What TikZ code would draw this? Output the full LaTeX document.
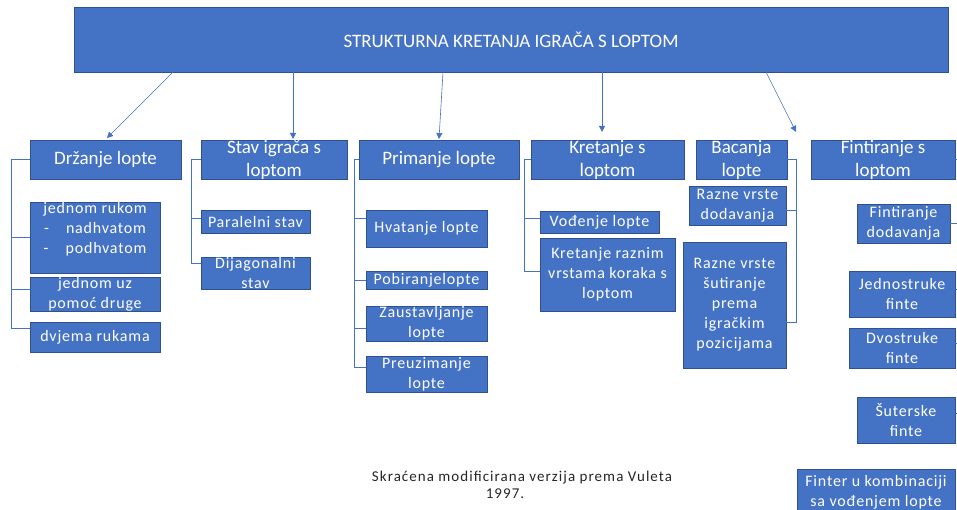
\documentclass[tikz,border=0pt]{standalone}
\usepackage{fontspec}
\setmainfont{Carlito}
\newfontfamily\lsf[LetterSpace=5]{Carlito}
\newfontfamily\capf[LetterSpace=7]{Carlito}
\usetikzlibrary{arrows.meta}
\definecolor{boxblue}{HTML}{4472C4}
\definecolor{boxborder}{HTML}{2F528F}
\definecolor{lineblue}{HTML}{4472C4}
\definecolor{captext}{HTML}{262626}
\newcommand\bx[7][]{\node[bx,#1,minimum width={#4-#2},minimum height={#5-#3}] (#6) at ({(#2+#4)/2},{(#3+#5)/2}) {#7};}
\begin{document}
\begin{tikzpicture}[x=1pt,y=-1pt,
  bx/.style={draw=boxborder,fill=boxblue,text=white,inner sep=0pt,outer sep=0pt,line width=0.8pt,align=center},
  big/.style={font=\fontsize{19}{23}\selectfont},
  small/.style={font=\lsf\fontsize{16}{20}\selectfont},
  conn/.style={draw=lineblue,line width=0.8pt},
  arr/.style={draw=lineblue,line width=0.6pt,-{Triangle[length=6pt,width=6pt]}}]
\useasboundingbox (0,0) rectangle (957,509);
% top
\bx[big]{74}{7}{948}{72}{top}{STRUKTURNA KRETANJA IGRAČA S LOPTOM}
% level 1
\bx[big]{30}{140}{181}{179}{drz}{Držanje lopte}
\bx[big]{201}{140}{347}{179}{stav}{Stav igrača s\\loptom}
\bx[big]{359}{140}{519}{179}{prim}{Primanje lopte}
\bx[big]{531}{140}{684}{179}{kret}{Kretanje s\\loptom}
\bx[big]{696}{140}{787}{179}{bac}{Bacanja\\lopte}
\bx[big]{811}{140}{955}{179}{fint}{Fintiranje s\\loptom}
% Držanje children
\bx[small]{30}{204}{160}{271}{jA}{\makebox[110pt][c]{jednom rukom}\\\makebox[22pt][l]{-}nadhvatom\\\makebox[22pt][l]{-}podhvatom\\\mbox{}}
\bx[small]{30}{278}{160}{311}{jB}{jednom uz\\pomoć druge}
\bx[small]{30}{322}{160}{352}{jC}{dvjema rukama}
% Stav children
\bx[small]{201}{210}{310}{233}{par}{Paralelni stav}
\bx[small]{201}{257}{310}{289}{dij}{Dijagonalni\\stav}
% Primanje children
\bx[small]{366}{210}{487}{247}{hvat}{Hvatanje lopte}
\bx[small]{366}{271}{487}{289}{pob}{Pobiranjelopte}
\bx[small]{366}{306}{487}{341}{zaus}{Zaustavljanje\\lopte}
\bx[small]{366}{356}{487}{392}{preu}{Preuzimanje\\lopte}
% Kretanje children
\bx[small]{540}{211}{659}{233}{vod}{Vođenje lopte}
\bx[small]{540}{238}{675}{311}{kraz}{Kretanje raznim\\vrstama koraka s\\loptom}
% Bacanja children
\bx[small]{689}{186}{786}{225}{rdod}{Razne vrste\\dodavanja}
\bx[small]{683}{242}{786}{368}{rsut}{Razne vrste\\šutiranje\\prema\\igračkim\\pozicijama}
% Fintiranje children
\bx[small]{857}{204}{950}{243}{fdod}{Fintiranje\\dodavanja}
\bx[small]{849}{271}{955}{317}{jed}{Jednostruke\\finte}
\bx[small]{849}{328}{955}{368}{dvo}{Dvostruke\\finte}
\bx[small]{857}{397}{955}{443}{sut}{Šuterske\\finte}
\bx[small]{797}{469}{955}{515}{fkom}{Finter u kombinaciji\\sa vođenjem lopte}
% caption
\node[font=\capf\fontsize{15}{17}\selectfont,text=captext,align=center] (cap) at (522,485) {Skraćena modificirana verzija prema Vuleta\\1997.\hspace*{34pt}};
% arrows from top
\draw[arr] ([xshift=-338pt]top.south) -- ([xshift=1.5pt,yshift=2pt]drz.north);
\draw[arr] ([xshift=-218pt]top.south) -- ([xshift=19pt,yshift=1pt]stav.north);
\draw[arr] ([xshift=-68pt]top.south) -- ([yshift=1pt]prim.north);
\draw[arr] ([xshift=91pt]top.south) -- ([xshift=-5.5pt,yshift=8pt]kret.north);
\draw[arr] ([xshift=255pt]top.south) -- ([xshift=54.5pt,yshift=8pt]bac.north);
% Držanje connectors
\draw[conn] (drz.west) -| ([xshift=-19pt,yshift=9pt]jC.west) -- ([yshift=9pt]jC.west);
\draw[conn] ([xshift=-19pt]jA.west) -- (jA.west);
\draw[conn] ([xshift=-19pt,yshift=5pt]jB.west) -- ([yshift=5pt]jB.west);
% Stav connectors
\draw[conn] (stav.west) -| ([xshift=-10pt,yshift=10pt]dij.west) -- ([yshift=10pt]dij.west);
\draw[conn] ([xshift=-10pt,yshift=3.5pt]par.west) -- ([yshift=3.5pt]par.west);
% Primanje connectors
\draw[conn] (prim.west) -| ([xshift=-12pt,yshift=7pt]preu.west) -- ([yshift=7pt]preu.west);
\draw[conn] ([xshift=-12pt,yshift=10pt]hvat.west) -- ([yshift=10pt]hvat.west);
\draw[conn] ([xshift=-12pt]pob.west) -- (pob.west);
\draw[conn] ([xshift=-12pt,yshift=-4.5pt]zaus.west) -- ([yshift=-4.5pt]zaus.west);
% Kretanje connectors
\draw[conn] (kret.west) -| ([xshift=-16pt,yshift=3.5pt]kraz.west) -- ([yshift=3.5pt]kraz.west);
\draw[conn] ([xshift=-16pt,yshift=4pt]vod.west) -- ([yshift=4pt]vod.west);
% Bacanja connectors
\draw[conn] (bac.east) -| ([xshift=10pt,yshift=-17pt]rsut.east) -- ([yshift=-17pt]rsut.east);
\draw[conn] ([xshift=10pt,yshift=-4.5pt]rdod.east) -- ([yshift=-4.5pt]rdod.east);
% Fintiranje stubs (trunk outside picture)
\coordinate (edge) at (962,0);
\draw[conn] (fint.east) -- (fint.east -| edge);
\draw[conn] (fdod.east) -- (fdod.east -| edge);
\draw[conn] ([yshift=5pt]jed.east) -- ([yshift=5pt]jed.east -| edge);
\draw[conn] ([yshift=5pt]dvo.east) -- ([yshift=5pt]dvo.east -| edge);
\draw[conn] ([yshift=7pt]sut.east) -- ([yshift=7pt]sut.east -| edge);
\end{tikzpicture}
\end{document}
